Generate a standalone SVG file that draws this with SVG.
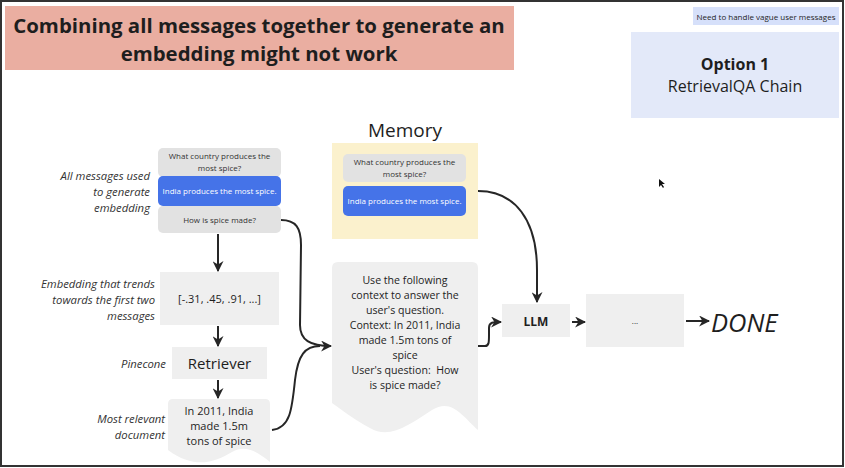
<svg xmlns="http://www.w3.org/2000/svg" width="845" height="468" viewBox="0 0 845 468">
<defs>
<style>
text{font-family:"Open Sans","Noto Sans","DejaVu Sans",sans-serif;fill:#1e1e1e}
.lbl{font-style:italic;font-size:11.3px;text-anchor:end;fill:#333}
.c{text-anchor:middle}
.msg{font-size:8px;fill:#333;text-anchor:middle}
.wmsg{font-size:8px;fill:#fff;text-anchor:middle}
.gray{fill:#e2e2e2}
.blue{fill:#4573e8}
.box{fill:#efefef}
.con{fill:none;stroke:#262626;stroke-width:2}
</style>
<marker id="ah" viewBox="0 0 10 10" refX="9" refY="5" markerWidth="5.5" markerHeight="5.5" orient="auto" markerUnits="strokeWidth">
<path d="M0,0 L10,5 L0,10 L3,5 Z" fill="#262626"/>
</marker>
</defs>
<rect x="0" y="0" width="845" height="468" fill="#fff"/>
<rect x="1" y="1" width="842" height="465" fill="none" stroke="#333" stroke-width="2"/>

<g id="title">
<rect x="5" y="6" width="509" height="64" fill="#eaaea1"/>
<text x="259" y="33" class="c" font-size="20.4" font-weight="bold">Combining all messages together to generate an</text>
<text x="259" y="61" class="c" font-size="20.4" font-weight="bold">embedding might not work</text>
</g>

<g id="note">
<rect x="693" y="7" width="146" height="18" fill="#d6e0fa"/>
<text x="766" y="19.5" class="c" font-size="8" fill="#333">Need to handle vague user messages</text>
</g>

<g id="option">
<rect x="631" y="32" width="208" height="86" fill="#e3e9f9"/>
<text x="735" y="70" class="c" font-size="16" font-weight="bold">Option 1</text>
<text x="735" y="92" class="c" font-size="16" fill="#333">RetrievalQA Chain</text>
</g>

<g id="cursor">
<path d="M659,179 L659,187 L661,185 L663,188 L664,187 L662,184 L665,184 Z" fill="#111"/>
</g>

<g id="messages">
<rect x="158" y="148" width="123" height="29" rx="5" class="gray"/>
<rect x="158" y="206" width="123" height="27" rx="5" class="gray"/>
<rect x="158" y="176" width="123" height="30" rx="5" class="blue"/>
<text x="219.5" y="159" class="msg">What country produces the</text>
<text x="219.5" y="171" class="msg">most spice?</text>
<text x="219.5" y="194" class="wmsg">India produces the most spice.</text>
<text x="219.5" y="223" class="msg" font-size="9">How is spice made?</text>
<text x="150" y="180" class="lbl">All messages used</text>
<text x="150" y="196" class="lbl">to generate</text>
<text x="150" y="212" class="lbl">embedding</text>
</g>

<g id="embedding">
<rect x="160" y="272" width="119" height="53" class="box"/>
<text x="219.5" y="303" class="c" font-size="11" fill="#333">[-.31, .45, .91, ...]</text>
<text x="155" y="288" class="lbl">Embedding that trends</text>
<text x="155" y="304" class="lbl">towards the first two</text>
<text x="155" y="320" class="lbl">messages</text>
</g>

<g id="retriever">
<rect x="172" y="347" width="95" height="32" class="box"/>
<text x="219.5" y="369" class="c" font-size="15" fill="#222">Retriever</text>
<text x="166" y="368" class="lbl">Pinecone</text>
</g>

<g id="document">
<path d="M168,404 Q168,399 173,399 L265,399 Q270,399 270,404 L270,462 C255,450 245,445 232,452 C215,462 195,470 168,450 Z" class="box"/>
<text x="219" y="415" class="c" font-size="11" fill="#333">In 2011, India</text>
<text x="219" y="430" class="c" font-size="11" fill="#333">made 1.5m</text>
<text x="219" y="445" class="c" font-size="11" fill="#333">tons of spice</text>
<text x="165" y="423" class="lbl">Most relevant</text>
<text x="165" y="439" class="lbl">document</text>
</g>

<g id="memory">
<text x="405" y="137" class="c" font-size="19" fill="#1e1e1e">Memory</text>
<rect x="332" y="143" width="146" height="96" fill="#fbf1cd"/>
<rect x="343" y="154" width="123" height="28" rx="5" class="gray"/>
<rect x="343" y="186" width="123" height="30" rx="5" class="blue"/>
<text x="404.5" y="165" class="msg">What country produces the</text>
<text x="404.5" y="177" class="msg">most spice?</text>
<text x="404.5" y="204" class="wmsg">India produces the most spice.</text>
</g>

<g id="prompt">
<path d="M332,268 Q332,262 338,262 L472,262 Q478,262 478,268 L478,430 C462,416 452,398 432,410 C410,424 390,440 370,428 C355,420 342,410 332,403 Z" class="box"/>
<g font-size="10.6" fill="#222">
<text x="405" y="284" class="c">Use the following</text>
<text x="405" y="299" class="c">context to answer the</text>
<text x="405" y="314" class="c">user's question.</text>
<text x="405" y="329" class="c">Context: In 2011, India</text>
<text x="405" y="344" class="c">made 1.5m tons of</text>
<text x="405" y="359" class="c">spice</text>
<text x="405" y="374" class="c">User's question:&#160; How</text>
<text x="405" y="389" class="c">is spice made?</text>
</g>
</g>

<g id="llm">
<rect x="502" y="304" width="68" height="33" class="box"/>
<text x="536" y="326" class="c" font-size="12" font-weight="bold" fill="#222">LLM</text>
</g>

<g id="dots">
<rect x="586" y="294" width="98" height="53" class="box"/>
<text x="635" y="324" class="c" font-size="8" fill="#444">...</text>
</g>

<g id="done">
<text x="711" y="332" font-size="25.5" font-style="italic" fill="#111">DONE</text>
</g>

<g id="connectors">
<path d="M218,234 L218,271" class="con" marker-end="url(#ah)"/>
<path d="M218,326 L218,346" class="con" marker-end="url(#ah)"/>
<path d="M218,380 L218,398" class="con" marker-end="url(#ah)"/>
<path d="M281,220 C296,220 301,228 301,245 L300,325 C300,340 310,346 331,346" class="con" marker-end="url(#ah)"/>
<path d="M272,430 C290,428 292,410 295,380 C298,355 305,346 320,346" class="con"/>
<path d="M478,191 C515,191 537,220 537,270 L537,302" class="con" marker-end="url(#ah)"/>
<path d="M478,346 L485,346 C489,346 489,342 489,335 L489,328 C489,322 493,322 501,322" class="con" marker-end="url(#ah)"/>
<path d="M572,322 L585,322" class="con" marker-end="url(#ah)"/>
<path d="M686,321 L709,321" class="con" marker-end="url(#ah)"/>
</g>
</svg>
